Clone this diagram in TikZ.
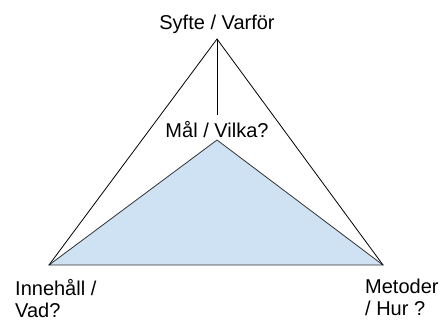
\documentclass[tikz,border=0pt]{standalone}
\usepackage{fontspec}
\setmainfont{Liberation Sans}
\usetikzlibrary{positioning}
\definecolor{paleblue}{RGB}{207,226,243}

\begin{document}
\begin{tikzpicture}[x=1pt,y=-1pt,
label/.style={inner sep=0pt,font=\fontsize{20}{22}\selectfont},
edge/.style={draw=black,line width=0.8pt},
base/.style={fill=paleblue,draw=black!80,line width=0.8pt}
]
\useasboundingbox (0,0) rectangle (446,324);
\coordinate (top) at (217,39);
\coordinate (left) at (49,265);
\coordinate (right) at (383,265);
\coordinate (mid) at (217,140);
\coordinate (stem) at (217,115);
\filldraw[base] (left) -- (mid) -- (right) -- cycle;
\draw[edge] (left) -- (top) -- (right);
\draw[edge] (top) -- (stem);
\node[label,anchor=base] (why) at (217,29) {Syfte / Varför};
\node[label,anchor=base] (goal) at (217,137) {Mål / Vilka?};
\node[label,align=left,anchor=north west] (what) at (15,279) {Innehåll /\\Vad?};
\node[label,align=left,anchor=north west] (how) at (365,279) {Metoder\\/ Hur ?};
\end{tikzpicture}
\end{document}
